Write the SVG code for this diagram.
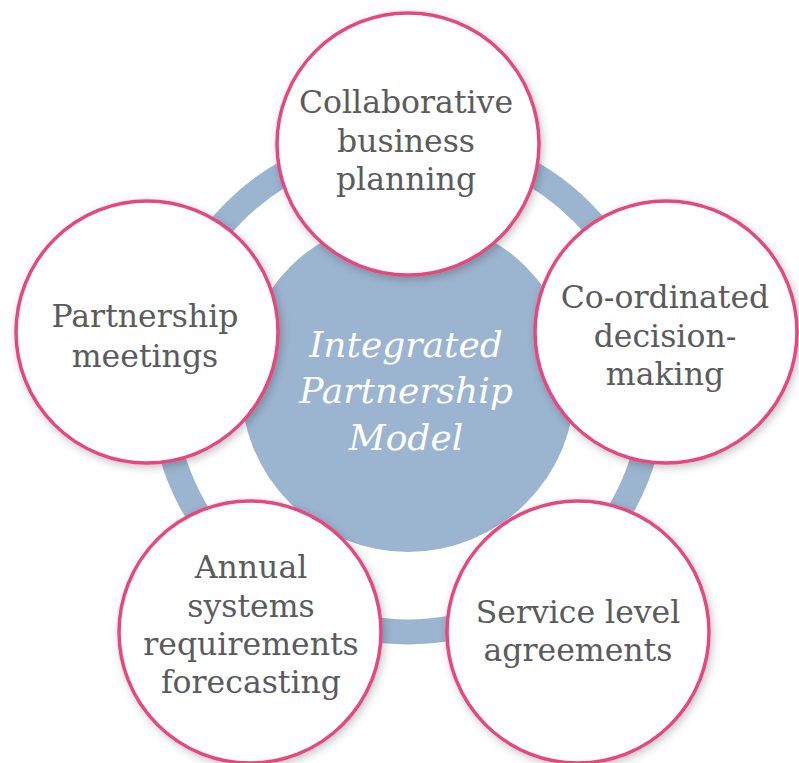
<svg xmlns="http://www.w3.org/2000/svg" width="799" height="763" viewBox="0 0 799 763">
<defs>
<filter id="sh" x="-20%" y="-20%" width="140%" height="140%">
<feDropShadow dx="2" dy="3" stdDeviation="4" flood-color="#000" flood-opacity="0.22"/>
</filter>
<style>
.node{fill:#fff;stroke:#e8467c;stroke-width:3.5;filter:url(#sh)}
.lbl{font-family:"DejaVu Serif","Liberation Serif",serif;font-size:31.5px;fill:#5a5b5d;text-anchor:middle}
.ctr{font-family:"DejaVu Serif","Liberation Serif",serif;font-style:italic;font-size:36px;fill:#fff;text-anchor:middle}
</style>
</defs>
<rect width="799" height="763" fill="#fff"/>
<g id="connectors">
<circle cx="408" cy="386" r="246" fill="none" stroke="#9bb4cf" stroke-width="25"/>
</g>
<g id="center">
<circle cx="408" cy="385" r="167" fill="#9bb4cf"/>
<text class="ctr" x="406" y="357">Integrated</text>
<text class="ctr" x="406" y="403">Partnership</text>
<text class="ctr" x="406" y="450">Model</text>
</g>
<g id="n-top">
<circle class="node" cx="408" cy="144" r="131"/>
<text class="lbl" x="406" y="113">Collaborative</text>
<text class="lbl" x="406" y="152">business</text>
<text class="lbl" x="406" y="190">planning</text>
</g>
<g id="n-right">
<circle class="node" cx="666" cy="332" r="131"/>
<text class="lbl" x="665" y="308">Co-ordinated</text>
<text class="lbl" x="665" y="347">decision-</text>
<text class="lbl" x="665" y="385">making</text>
</g>
<g id="n-left">
<circle class="node" cx="147" cy="332" r="131"/>
<text class="lbl" x="145" y="327">Partnership</text>
<text class="lbl" x="145" y="367">meetings</text>
</g>
<g id="n-botleft">
<circle class="node" cx="250" cy="632" r="131"/>
<text class="lbl" x="251" y="578">Annual</text>
<text class="lbl" x="251" y="617">systems</text>
<text class="lbl" x="251" y="655">requirements</text>
<text class="lbl" x="251" y="693">forecasting</text>
</g>
<g id="n-botright">
<circle class="node" cx="578" cy="632" r="131"/>
<text class="lbl" x="578" y="623">Service level</text>
<text class="lbl" x="578" y="661">agreements</text>
</g>
</svg>
